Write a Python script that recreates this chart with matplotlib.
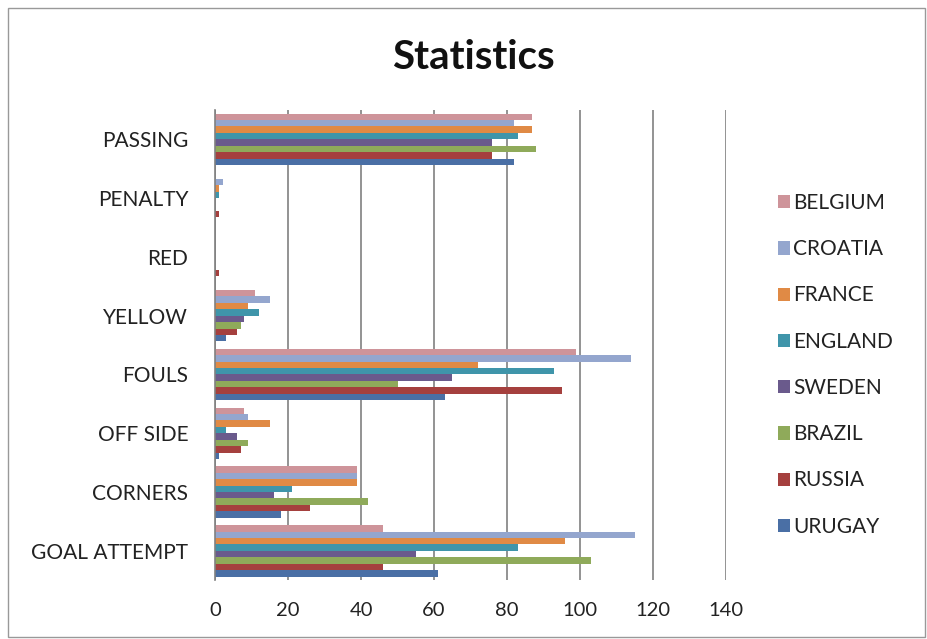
import matplotlib
matplotlib.use("Agg")
import matplotlib.pyplot as plt
import numpy as np
from matplotlib.patches import Rectangle

categories = ["GOAL ATTEMPT", "CORNERS", "OFF SIDE", "FOULS", "YELLOW", "RED", "PENALTY", "PASSING"]
countries = ["URUGAY", "RUSSIA", "BRAZIL", "SWEDEN", "ENGLAND", "FRANCE", "CROATIA", "BELGIUM"]

# values per country, in category order above
uruguay = [61, 18, 1, 63, 3, 0, 0, 82]
russia = [46, 26, 7, 95, 6, 1, 1, 76]
brazil = [103, 42, 9, 50, 7, 0, 0, 88]
sweden = [55, 16, 6, 65, 8, 0, 0, 76]
england = [83, 21, 3, 93, 12, 0, 1, 83]
france = [96, 39, 15, 72, 9, 0, 1, 87]
croatia = [115, 39, 9, 114, 15, 0, 2, 82]
belgium = [46, 39, 8, 99, 11, 0, 0, 87]

series = [uruguay, russia, brazil, sweden, england, france, croatia, belgium]
colors = ["#4A6FA5", "#A5403E", "#8FAA5A", "#6A5A8C", "#3F95AA", "#E08A45", "#94A6CE", "#CE949A"]

plt.rcParams['font.family'] = ['Lato', 'DejaVu Sans']

fig = plt.figure(figsize=(9.28, 6.39), dpi=100)
ax = fig.add_axes([0.232, 0.092, 0.550, 0.736])

n = len(series)
group = 0.875
h = group / n
y = np.arange(len(categories))
handles = []
for i, (vals, c) in enumerate(zip(series, colors)):
    offs = -group / 2 + h * (i + 0.5)
    b = ax.barh(y + offs, vals, height=h, color=c, label=countries[i], zorder=3)
    handles.append(b)

ax.set_xlim(0, 140)
ax.set_ylim(-0.5, len(categories) - 0.5)
ax.set_xticks(range(0, 141, 20))
ax.set_yticks(y)
ax.set_yticklabels(categories)
ax.tick_params(axis='y', length=0, pad=19.5, labelsize=15, labelcolor='#222222')
ax.tick_params(axis='x', length=0, pad=16, labelsize=14.5, labelcolor='#222222')
ax.grid(axis='x', color='#808080', linewidth=1.2, zorder=0)
for s in ['top', 'right', 'bottom']:
    ax.spines[s].set_visible(False)
ax.spines['left'].set_color('#808080')
ax.spines['left'].set_linewidth(1.2)
ax.spines['left'].set_zorder(4)

fig.text(0.51, 0.91, "Statistics", ha='center', va='center', fontsize=29, fontweight='bold', color='#111111')

fig.legend(handles[::-1], countries[::-1], loc='center left', bbox_to_anchor=(0.838, 0.429),
           frameon=False, fontsize=15, handlelength=0.6, handleheight=0.6,
           handletextpad=0.15, labelspacing=1.26, borderpad=0, borderaxespad=0,
           labelcolor='#222222')

fig.patches.append(Rectangle((0.009, 0.003), 0.988, 0.984, transform=fig.transFigure,
                             fill=False, edgecolor='#999999', linewidth=1))

fig.savefig("out.png", dpi=100)
